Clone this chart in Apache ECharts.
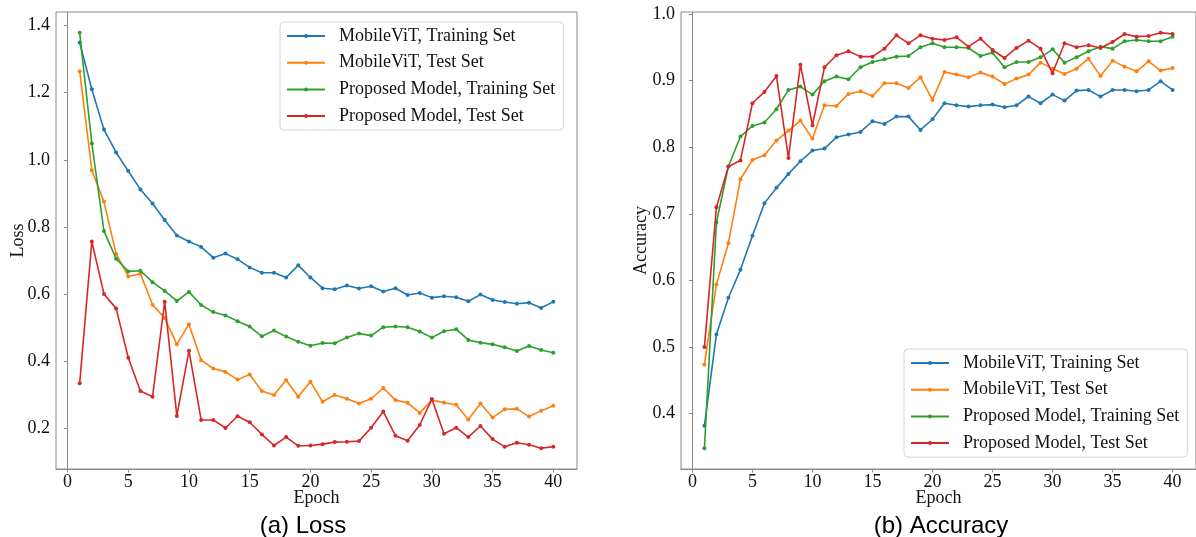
<!DOCTYPE html>
<html><head><meta charset="utf-8">
<script src="https://cdn.jsdelivr.net/npm/echarts@6/dist/echarts.min.js"></script>
<style>html,body{margin:0;padding:0;background:#fff}#c{width:1196px;height:537px}</style>
</head><body><div id="c"></div>
<script>
const epochs = Array.from({length:40},(_,i)=>i+1);
const seriesNames = ['MobileViT, Training Set','MobileViT, Test Set','Proposed Model, Training Set','Proposed Model, Test Set'];
const colors = ['#1f77b4','#ff7f0e','#2ca02c','#d62728'];
const xTicks = [0,5,10,15,20,25,30,35,40];
const lossTicks = [0.2,0.4,0.6,0.8,1.0,1.2,1.4];
const accTicks = [0.4,0.5,0.6,0.7,0.8,0.9,1.0];

const lossMobileTrain = [1.349,1.210,1.090,1.022,0.967,0.912,0.870,0.821,0.775,0.757,0.741,0.709,0.721,0.704,0.680,0.664,0.664,0.650,0.686,0.650,0.618,0.615,0.626,0.617,0.624,0.608,0.618,0.598,0.604,0.590,0.594,0.591,0.579,0.599,0.583,0.577,0.572,0.575,0.559,0.578];
const lossMobileTest = [1.264,0.969,0.875,0.720,0.653,0.661,0.569,0.529,0.451,0.511,0.404,0.379,0.369,0.346,0.361,0.312,0.300,0.345,0.295,0.340,0.280,0.300,0.289,0.275,0.289,0.321,0.285,0.277,0.247,0.285,0.277,0.271,0.227,0.275,0.233,0.258,0.259,0.236,0.253,0.268];
const lossPropTrain = [1.378,1.049,0.788,0.706,0.668,0.670,0.636,0.610,0.580,0.607,0.568,0.547,0.537,0.520,0.504,0.475,0.492,0.474,0.459,0.447,0.455,0.454,0.471,0.483,0.477,0.502,0.504,0.502,0.489,0.471,0.490,0.496,0.464,0.456,0.451,0.442,0.431,0.446,0.434,0.426];
const lossPropTest = [0.335,0.757,0.601,0.558,0.411,0.312,0.295,0.578,0.238,0.432,0.226,0.226,0.202,0.237,0.219,0.183,0.150,0.175,0.149,0.150,0.154,0.160,0.161,0.163,0.203,0.251,0.179,0.164,0.211,0.288,0.185,0.203,0.175,0.208,0.169,0.146,0.158,0.152,0.142,0.146];

const accMobileTrain = [0.382,0.519,0.574,0.616,0.667,0.716,0.739,0.760,0.779,0.795,0.798,0.815,0.819,0.823,0.839,0.835,0.846,0.846,0.826,0.842,0.866,0.863,0.861,0.863,0.864,0.860,0.863,0.876,0.866,0.879,0.870,0.885,0.886,0.876,0.886,0.886,0.884,0.886,0.899,0.886];
const accMobileTest = [0.474,0.594,0.656,0.752,0.781,0.788,0.810,0.825,0.840,0.813,0.863,0.862,0.880,0.884,0.877,0.896,0.896,0.889,0.905,0.871,0.913,0.909,0.905,0.912,0.906,0.895,0.903,0.909,0.927,0.918,0.910,0.918,0.933,0.907,0.930,0.921,0.914,0.929,0.915,0.919];
const accPropTrain = [0.348,0.687,0.771,0.816,0.832,0.837,0.857,0.886,0.891,0.879,0.899,0.906,0.902,0.920,0.928,0.932,0.936,0.937,0.950,0.956,0.950,0.950,0.949,0.937,0.942,0.920,0.928,0.928,0.935,0.947,0.927,0.935,0.944,0.951,0.948,0.959,0.961,0.959,0.959,0.966];
const accPropTest = [0.500,0.710,0.771,0.780,0.866,0.883,0.907,0.784,0.924,0.833,0.920,0.938,0.944,0.936,0.936,0.948,0.968,0.956,0.968,0.963,0.961,0.965,0.951,0.963,0.946,0.934,0.949,0.960,0.948,0.911,0.956,0.950,0.953,0.949,0.958,0.970,0.966,0.967,0.972,0.970];

const lossData = [lossMobileTrain, lossMobileTest, lossPropTrain, lossPropTest];
const accData = [accMobileTrain, accMobileTest, accPropTrain, accPropTest];

const serif = 'Liberation Serif';
const axisCol = '#8a8a8a';
function xAxis(gi){
  return {type:'value', gridIndex:gi, min:-0.95, max:41.95, name:'Epoch', nameLocation:'middle', nameGap:20, nameMoveOverlap:false,
    nameTextStyle:{fontFamily:serif,fontSize:18,color:'#111'},
    axisLine:{show:true,lineStyle:{color:axisCol,width:1}},
    axisTick:{show:true,inside:false,length:3.5,customValues:xTicks,lineStyle:{color:axisCol}},
    axisLabel:{customValues:xTicks,margin:4,fontFamily:serif,fontSize:18,color:'#111',formatter:v=>String(Math.round(v))},
    splitLine:{show:false}};
}
function yAxis(gi,min,max,ticks,name,gap){
  return {type:'value', gridIndex:gi, min:min, max:max, name:name, nameLocation:'middle', nameGap:gap, nameRotate:90, nameMoveOverlap:false,
    nameTextStyle:{fontFamily:serif,fontSize:18,color:'#111'},
    axisLine:{show:true,lineStyle:{color:axisCol,width:1}},
    axisTick:{show:true,inside:false,length:3.5,customValues:ticks,lineStyle:{color:axisCol}},
    axisLabel:{customValues:ticks,margin:6,fontFamily:serif,fontSize:18,color:'#111',formatter:v=>v.toFixed(1)},
    splitLine:{show:false}};
}
const series = [];
seriesNames.forEach((n,i)=>{
  series.push({name:n,type:'line',xAxisIndex:0,yAxisIndex:0,data:epochs.map((e,j)=>[e,lossData[i][j]]),
    symbol:'circle',symbolSize:4,showSymbol:true,color:colors[i],lineStyle:{width:1.6,color:colors[i]},itemStyle:{color:colors[i]},z:2+i,animation:false});
  series.push({name:n,type:'line',xAxisIndex:1,yAxisIndex:1,data:epochs.map((e,j)=>[e,accData[i][j]]),
    symbol:'circle',symbolSize:4,showSymbol:true,color:colors[i],lineStyle:{width:1.6,color:colors[i]},itemStyle:{color:colors[i]},z:2+i,animation:false});
});
function legend(left,top){
  return {orient:'vertical',left:left,top:top,data:seriesNames,itemWidth:38,itemHeight:5,itemGap:6.7,
    padding:[4,8,4,6],backgroundColor:'rgba(255,255,255,0.85)',borderColor:'#d5d5d5',borderWidth:1,borderRadius:4,
    textStyle:{fontFamily:serif,fontSize:18,color:'#111',lineHeight:20,padding:[0,0,0,9]},selectedMode:false};
}
const chart = echarts.init(document.getElementById('c'),null,{renderer:'canvas'});
chart.setOption({
  animation:false,
  backgroundColor:'#fff',
  grid:[
    {left:56,top:12,width:521,height:457,show:true,borderColor:axisCol,borderWidth:1,containLabel:false},
    {left:681,top:12,width:520,height:457,show:true,borderColor:axisCol,borderWidth:1,containLabel:false}
  ],
  xAxis:[xAxis(0),xAxis(1)],
  yAxis:[yAxis(0,0.080,1.440,lossTicks,'Loss',29),yAxis(1,0.317,1.003,accTicks,'Accuracy',31)],
  legend:[legend(280,22),legend(904,349)],
  title:[
    {text:'(a) Loss',left:298,top:509,textAlign:'center',textStyle:{fontFamily:'Liberation Sans',fontSize:24,fontWeight:'normal',color:'#000'}},
    {text:'(b) Accuracy',left:936,top:509,textAlign:'center',textStyle:{fontFamily:'Liberation Sans',fontSize:24,fontWeight:'normal',color:'#000'}}
  ],
  series:series
});
</script></body></html>
